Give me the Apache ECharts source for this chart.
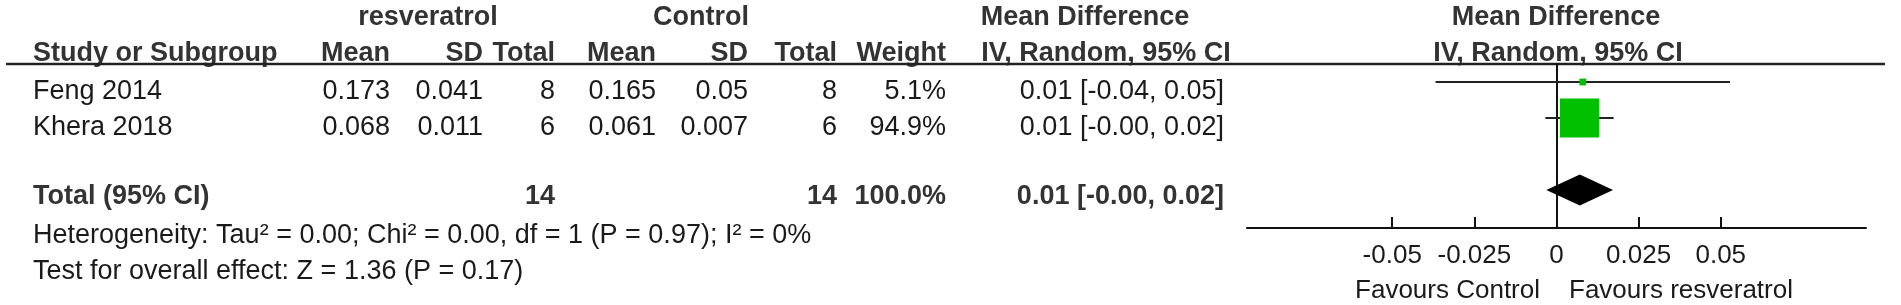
<!DOCTYPE html>
<html>
<head>
<meta charset="utf-8">
<script src="https://cdn.jsdelivr.net/npm/echarts@6/dist/echarts.min.js"></script>
<style>
html, body { margin: 0; padding: 0; background: #fff; }
#main { width: 1901px; height: 305px; }
</style>
</head>
<body>
<div id="main"></div>
<script>
// data
const studies = ['Feng 2014', 'Khera 2018'];
const resMean = [0.173, 0.068];
const resSD = [0.041, 0.011];
const resTotal = [8, 6];
const ctlMean = [0.165, 0.061];
const ctlSD = [0.05, 0.007];
const ctlTotal = [8, 6];
const weights = [5.1, 94.9];
const md = [0.008, 0.007];
const ciLow = [-0.0368, -0.0034];
const ciHigh = [0.0528, 0.0174];
const pooled = [0.0071, -0.0031, 0.0172]; // estimate, low, high
const tickValues = [-0.05, -0.025, 0, 0.025, 0.05];
const heterogeneity = 'Heterogeneity: Tau² = 0.00; Chi² = 0.00, df = 1 (P = 0.97); I² = 0%';
const overall = 'Test for overall effect: Z = 1.36 (P = 0.17)';

const FONT = '"Liberation Sans", Arial, sans-serif';
const FS = 27;
const AXIS_FS = 26;
const sum = a => a.reduce((s, v) => s + v, 0);
const ci = (m, l, h) => m.toFixed(2) + ' [' + l.toFixed(2) + ', ' + h.toFixed(2) + ']';

// table layout (pixels)
const col = { study: 33, mean1: 390, sd1: 483, tot1: 555, mean2: 656, sd2: 748, tot2: 837, weight: 946, md: 1224 };
const head1Y = 17.5, head2Y = 53.5, firstRowY = 92, rowGap = 36, totalY = 197, hetY = 236, testY = 272;

function txt(s, x, y, align, bold, size) {
    return {
        type: 'text',
        silent: true,
        style: {
            text: s, x: x, y: y,
            align: align, verticalAlign: 'middle',
            fontSize: size || FS, fontFamily: FONT,
            fontWeight: bold ? 'bold' : 'normal',
            fill: bold ? '#333' : '#1a1a1a'
        }
    };
}

let texts = [
    txt('resveratrol', 428, head1Y, 'center', true),
    txt('Control', 701, head1Y, 'center', true),
    txt('Mean Difference', 1085, head1Y, 'center', true),
    txt('Mean Difference', 1556, head1Y, 'center', true),
    txt('Study or Subgroup', col.study, head2Y, 'left', true),
    txt('Mean', col.mean1, head2Y, 'right', true),
    txt('SD', col.sd1, head2Y, 'right', true),
    txt('Total', col.tot1, head2Y, 'right', true),
    txt('Mean', col.mean2, head2Y, 'right', true),
    txt('SD', col.sd2, head2Y, 'right', true),
    txt('Total', col.tot2, head2Y, 'right', true),
    txt('Weight', col.weight, head2Y, 'right', true),
    txt('IV, Random, 95% CI', 1106, head2Y, 'center', true),
    txt('IV, Random, 95% CI', 1558, head2Y, 'center', true)
];
studies.forEach((s, i) => {
    const y = firstRowY + i * rowGap;
    texts.push(
        txt(s, col.study, y, 'left'),
        txt(String(resMean[i]), col.mean1, y, 'right'),
        txt(String(resSD[i]), col.sd1, y, 'right'),
        txt(String(resTotal[i]), col.tot1, y, 'right'),
        txt(String(ctlMean[i]), col.mean2, y, 'right'),
        txt(String(ctlSD[i]), col.sd2, y, 'right'),
        txt(String(ctlTotal[i]), col.tot2, y, 'right'),
        txt(weights[i].toFixed(1) + '%', col.weight, y, 'right'),
        txt(ci(md[i], ciLow[i], ciHigh[i]), col.md, y, 'right')
    );
});
texts.push(
    txt('Total (95% CI)', col.study, totalY, 'left', true),
    txt(String(sum(resTotal)), col.tot1, totalY, 'right', true),
    txt(String(sum(ctlTotal)), col.tot2, totalY, 'right', true),
    txt(sum(weights).toFixed(1) + '%', col.weight, totalY, 'right', true),
    txt(ci(pooled[0], pooled[1], pooled[2]), col.md, totalY, 'right', true),
    txt(heterogeneity, col.study, hetY, 'left'),
    txt(overall, col.study, testY, 'left'),
    txt('Favours Control', 1540, 291, 'right', false, AXIS_FS),
    txt('Favours resveratrol', 1569, 291, 'left', false, AXIS_FS)
);
texts.push({
    type: 'line', silent: true,
    shape: { x1: 6, y1: 64, x2: 1885, y2: 64 },
    style: { stroke: '#222', lineWidth: 2.5 }
});

const gridTop = 64, gridBottom = 77;
const rowUnits = (305 - gridTop - gridBottom) / rowGap;

let myChart = echarts.init(document.getElementById('main'));
myChart.setOption({
    animation: false,
    backgroundColor: '#fff',
    grid: { left: 1247, right: 35, top: gridTop, bottom: gridBottom },
    xAxis: {
        type: 'value',
        min: -0.0942,
        max: 0.0942,
        axisLine: { onZero: false, lineStyle: { color: '#111', width: 2 } },
        axisTick: { show: true, inside: true, length: 11, customValues: tickValues, lineStyle: { color: '#111', width: 2 } },
        axisLabel: {
            customValues: tickValues, margin: 15, fontSize: AXIS_FS, fontFamily: FONT, color: '#1a1a1a',
            formatter: v => String(v)
        },
        splitLine: { show: false }
    },
    yAxis: {
        type: 'value',
        inverse: true,
        min: 0,
        max: rowUnits,
        axisLine: { show: true, onZero: true, lineStyle: { color: '#111', width: 2 } },
        axisTick: { show: false },
        axisLabel: { show: false },
        splitLine: { show: false }
    },
    series: [{
        type: 'custom',
        data: studies.map((s, i) => [md[i], i + 0.5, ciLow[i], ciHigh[i], weights[i]]),
        renderItem: function (params, api) {
            const y = api.value(1);
            const a = api.coord([api.value(2), y]);
            const b = api.coord([api.value(3), y]);
            const c = api.coord([api.value(0), y]);
            const side = 5 + api.value(4) * 0.36;
            return {
                type: 'group',
                children: [
                    { type: 'line', shape: { x1: a[0], y1: a[1], x2: b[0], y2: b[1] }, style: { stroke: '#222', lineWidth: 2 } },
                    { type: 'rect', shape: { x: c[0] - side / 2, y: c[1] - side / 2, width: side, height: side }, style: { fill: '#00c000' } }
                ]
            };
        }
    }, {
        type: 'custom',
        data: [[pooled[0], studies.length + 1.5, pooled[1], pooled[2]]],
        renderItem: function (params, api) {
            const y = api.value(1);
            const l = api.coord([api.value(2), y]);
            const m = api.coord([api.value(0), y]);
            const r = api.coord([api.value(3), y]);
            const h = 15.5;
            return {
                type: 'polygon',
                shape: { points: [[l[0], l[1]], [m[0], m[1] - h], [r[0], r[1]], [m[0], m[1] + h]] },
                style: { fill: '#000' }
            };
        }
    }],
    graphic: texts
});
</script>
</body>
</html>
